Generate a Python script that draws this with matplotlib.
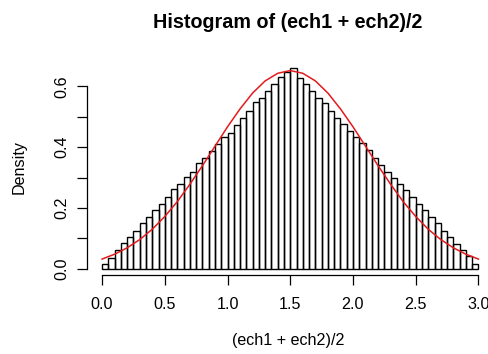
import numpy as np
import matplotlib
matplotlib.use("Agg")
import matplotlib.pyplot as plt

plt.rcParams['font.family'] = ['Liberation Sans', 'DejaVu Sans']

# histogram of (ech1 + ech2)/2, bins of width 0.05 on [0, 3]
bin_edges = np.linspace(0, 3, 61)
densities = [
    0.015, 0.037, 0.061, 0.085, 0.105, 0.124, 0.149, 0.170, 0.192, 0.214,
    0.236, 0.261, 0.280, 0.302, 0.320, 0.348, 0.366, 0.388, 0.409, 0.432,
    0.448, 0.472, 0.497, 0.519, 0.549, 0.563, 0.585, 0.609, 0.632, 0.647,
    0.662, 0.626, 0.609, 0.585, 0.563, 0.545, 0.519, 0.497, 0.475, 0.453,
    0.432, 0.414, 0.392, 0.366, 0.340, 0.318, 0.300, 0.280, 0.258, 0.236,
    0.214, 0.192, 0.170, 0.151, 0.124, 0.103, 0.081, 0.061, 0.041, 0.017,
]

# red density curve read at steps of 0.1
curve_x = np.round(np.arange(0, 3.01, 0.1), 2)
curve_y = [
    0.032, 0.048, 0.069, 0.096, 0.130, 0.172, 0.221, 0.278, 0.339, 0.403,
    0.467, 0.526, 0.578, 0.618, 0.643, 0.652, 0.643, 0.618, 0.578, 0.526,
    0.467, 0.403, 0.339, 0.278, 0.221, 0.172, 0.130, 0.096, 0.069, 0.048,
    0.032,
]

x_ticks = [0.0, 0.5, 1.0, 1.5, 2.0, 2.5, 3.0]
y_ticks = [0.0, 0.1, 0.2, 0.3, 0.4, 0.5, 0.6]
y_labels = ['0.0', '', '0.2', '', '0.4', '', '0.6']

W, H = 489, 354
fig = plt.figure(figsize=(W / 100, H / 100), dpi=100)
ax = fig.add_axes([87 / W, 1 - 275 / H, (W - 87) / W, (275 - 59) / H])

ax.bar(bin_edges[:-1], densities, width=np.diff(bin_edges), align='edge',
       facecolor='none', edgecolor='black', linewidth=1.0)
ax.plot(curve_x, curve_y, color='#e41a1c', linewidth=1.1)

ax.set_xlim(-0.12, 3.084)
ax.set_ylim(-0.0204, 0.690)

for s in ['top', 'right']:
    ax.spines[s].set_visible(False)
ax.spines['bottom'].set_bounds(0, 3)
ax.spines['left'].set_bounds(0, 0.6)
for s in ['bottom', 'left']:
    ax.spines[s].set_linewidth(0.9)

ax.set_xticks(x_ticks)
ax.set_xticklabels(['%.1f' % v for v in x_ticks])
ax.set_yticks(y_ticks)
ax.set_yticklabels(y_labels, rotation=90, va='center')
ax.tick_params(direction='out', length=7, width=0.9, labelsize=11.6,
               colors='black')
ax.tick_params(axis='x', pad=9)
ax.tick_params(axis='y', pad=6)

ax.set_xlabel('(ech1 + ech2)/2', fontsize=11.6, labelpad=15)
ax.set_ylabel('Density', fontsize=11.6, labelpad=20)
ax.set_title('Histogram of (ech1 + ech2)/2', fontsize=14.2,
             fontweight='bold', pad=22)

fig.savefig('out.png', dpi=100)
